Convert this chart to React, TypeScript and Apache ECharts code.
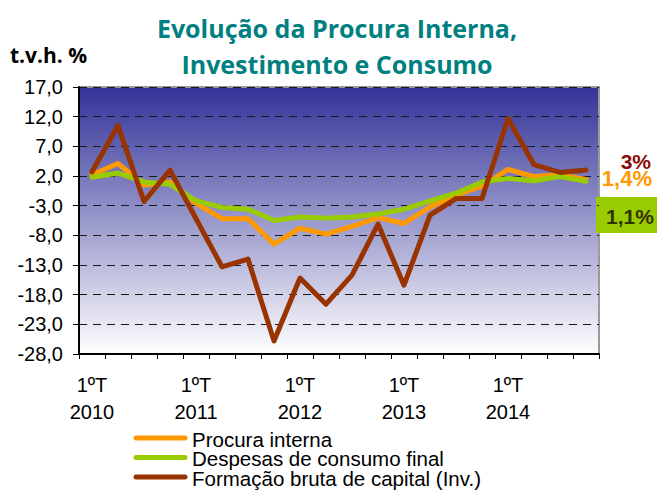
import React, { useEffect, useRef } from "react";
import * as echarts from "echarts";

const categories = [
  "1ºT\n2010", "2ºT 2010", "3ºT 2010", "4ºT 2010",
  "1ºT\n2011", "2ºT 2011", "3ºT 2011", "4ºT 2011",
  "1ºT\n2012", "2ºT 2012", "3ºT 2012", "4ºT 2012",
  "1ºT\n2013", "2ºT 2013", "3ºT 2013", "4ºT 2013",
  "1ºT\n2014", "2ºT 2014", "3ºT 2014", "4ºT 2014",
];

const procuraInterna = [2.2, 4.1, 0.5, 1.0, -2.6, -5.2, -5.2, -9.5, -6.8, -7.8, -6.5, -5.0, -6.0, -3.2, -1.2, 0.3, 3.1, 1.9, 2.2, 1.4];
const despesasConsumo = [1.8, 2.5, 1.0, 0.6, -2.2, -3.3, -3.6, -5.5, -4.9, -5.1, -4.9, -4.4, -3.6, -2.2, -0.9, 1.0, 1.6, 1.2, 1.9, 1.1];
const formacaoBruta = [2.7, 10.5, -2.3, 3.0, -5.2, -13.3, -12.0, -25.8, -15.2, -19.6, -14.7, -6.1, -16.4, -4.6, -1.8, -1.8, 11.7, 3.9, 2.6, 3.0];

const seriesNames = ["Procura interna", "Despesas de consumo final", "Formação bruta de capital (Inv.)"];
const seriesColors = ["#FF9900", "#99CC00", "#993300"];
const endLabels = ["1,4%", "1,1%", "3%"];

const titleLines = ["Evolução da Procura Interna,", "Investimento e Consumo"];
const yUnit = "t.v.h. %";

const SANS = "'Liberation Sans', Arial, sans-serif";
const TITLE_FONT = "'Open Sans', sans-serif";

export default function App() {
  const ref = useRef<HTMLDivElement>(null);
  useEffect(() => {
    if (!ref.current) return;
    const chart = echarts.init(ref.current, null, { renderer: "svg" });
    const dataSets = [procuraInterna, despesasConsumo, formacaoBruta];

    const legendGraphics: any[] = [];
    seriesNames.forEach((name, i) => {
      const cy = 438 + i * 19.5;
      legendGraphics.push({
        type: "line",
        shape: { x1: 136, y1: cy, x2: 185, y2: cy },
        style: { stroke: seriesColors[i], lineWidth: 5, lineCap: "round" },
      });
      legendGraphics.push({
        type: "text",
        x: 192,
        y: cy + 1,
        style: {
          text: name,
          fontFamily: SANS,
          fontSize: 20.5,
          lineHeight: 19,
          fill: "#000",
          verticalAlign: "middle",
        },
      });
    });

    const option: any = {
      animation: false,
      backgroundColor: "#ffffff",
      grid: {
        left: 79,
        right: 58,
        top: 87,
        bottom: 138,
        show: true,
        borderColor: "#9a9a9a",
        borderWidth: 2,
        backgroundColor: {
          type: "linear",
          x: 0, y: 0, x2: 0, y2: 1,
          colorStops: [
            { offset: 0, color: "#333399" },
            { offset: 1, color: "#ffffff" },
          ],
        },
      },
      xAxis: {
        type: "category",
        data: categories,
        boundaryGap: true,
        axisLine: { onZero: false, lineStyle: { color: "#000", width: 2 } },
        axisTick: { show: true, interval: 0, length: 5, lineStyle: { color: "#000", width: 1 } },
        axisLabel: {
          interval: 3,
          margin: 17,
          fontFamily: SANS,
          fontSize: 20,
          lineHeight: 27,
          color: "#000",
        },
        splitLine: { show: false },
      },
      yAxis: {
        type: "value",
        min: -28,
        max: 17,
        interval: 5,
        axisLine: { show: true, lineStyle: { color: "#000", width: 2 } },
        axisTick: { show: true, length: 6, lineStyle: { color: "#000" } },
        axisLabel: {
          margin: 16,
          fontFamily: SANS,
          fontSize: 20,
          color: "#000",
          formatter: (v: number) => v.toFixed(1).replace(".", ","),
        },
        splitLine: {
          show: true,
          lineStyle: { color: "#1a1a1a", type: [8, 6], width: 1 },
        },
      },
      series: seriesNames.map((name, i) => ({
        name,
        type: "line",
        data: dataSets[i],
        symbol: "none",
        lineStyle: { color: seriesColors[i], width: 5, cap: "round", join: "round" },
        itemStyle: { color: seriesColors[i] },
      })),
      graphic: [
        {
          type: "text",
          x: 337,
          y: 28,
          style: {
            text: titleLines[0],
            fontFamily: TITLE_FONT,
            fontWeight: "bold",
            fontSize: 25,
            fill: "#008080",
            align: "center",
            verticalAlign: "middle",
          },
        },
        {
          type: "text",
          x: 337,
          y: 64,
          style: {
            text: titleLines[1],
            fontFamily: TITLE_FONT,
            fontWeight: "bold",
            fontSize: 25,
            fill: "#008080",
            align: "center",
            verticalAlign: "middle",
          },
        },
        {
          type: "text",
          x: 10,
          y: 55,
          style: {
            text: yUnit,
            fontFamily: TITLE_FONT,
            fontWeight: "bold",
            fontSize: 21,
            fill: "#000",
            verticalAlign: "middle",
          },
        },
        {
          type: "text",
          x: 651,
          y: 161,
          style: {
            text: endLabels[2],
            fontFamily: SANS,
            fontWeight: "bold",
            fontSize: 21,
            lineHeight: 18,
            fill: "#8B0A0A",
            align: "right",
            verticalAlign: "middle",
          },
        },
        {
          type: "text",
          x: 652,
          y: 178,
          style: {
            text: endLabels[0],
            fontFamily: SANS,
            fontWeight: "bold",
            fontSize: 22,
            lineHeight: 18,
            fill: "#FF9900",
            align: "right",
            verticalAlign: "middle",
          },
        },
        {
          type: "rect",
          shape: { x: 596, y: 197, width: 61, height: 36 },
          style: { fill: "#99CC00" },
        },
        {
          type: "text",
          x: 630,
          y: 216,
          style: {
            text: endLabels[1],
            fontFamily: SANS,
            fontWeight: "bold",
            fontSize: 21,
            fill: "#333300",
            align: "center",
            verticalAlign: "middle",
          },
        },
        ...legendGraphics,
      ],
    };
    chart.setOption(option);
    return () => chart.dispose();
  }, []);
  return (
    <div
      ref={ref}
      style={{ position: "fixed", left: 0, top: 0, width: 657, height: 492 }}
    />
  );
}
